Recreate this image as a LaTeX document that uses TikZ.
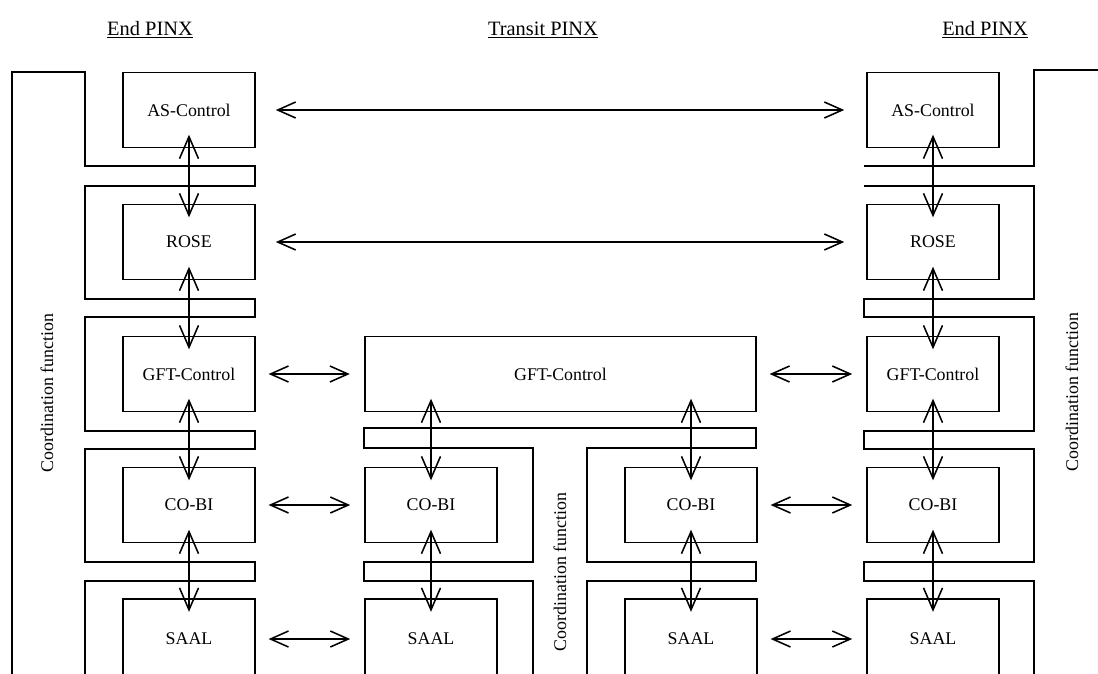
\documentclass[tikz,border=0pt]{standalone}
\usepackage{fontspec}
\setmainfont{Liberation Serif}
\usetikzlibrary{arrows.meta}
\tikzset{
  pbox/.style={draw,line width=1.1pt,minimum width=3.3cm,minimum height=1.875cm,inner sep=0pt,font=\fontsize{12.7}{15}\selectfont},
  phead/.style={anchor=base,font=\fontsize{14.5}{17}\selectfont},
  pcoord/.style={rotate=90,font=\fontsize{12.7}{15}\selectfont},
  pline/.style={line width=1.1pt},
  parr/.style={{Straight Barb[length=4.5mm,width=4mm]}-{Straight Barb[length=4.5mm,width=4mm]},line width=1.1pt},
  pvarr/.style={{Straight Barb[length=5.5mm,width=4.75mm]}-{Straight Barb[length=5.5mm,width=4.75mm]},line width=1.1pt,shorten <=-3.4mm,shorten >=-3.4mm}
}

\begin{document}
\begin{tikzpicture}[x=0.025cm,y=-0.025cm]
  \useasboundingbox (0,0) rectangle (1098,673);
  % headings
  \node[phead] (hl) at (150,35) {\underline{End PINX}};
  \node[phead] (hm) at (543,35) {\underline{Transit PINX}};
  \node[phead] (hr) at (985,35) {\underline{End PINX}};
  % end PINX stacks
  \foreach \c/\x in {l/189,r/933}{
    \node[pbox] (as\c) at (\x,110) {AS-Control};
    \node[pbox] (rose\c) at (\x,242) {ROSE};
    \node[pbox] (gft\c) at (\x,374) {GFT-Control};
    \node[pbox] (cobi\c) at (\x,505) {CO-BI};
    \node[pbox,minimum height=2cm] (saal\c) at (\x,639) {SAAL};
    \draw[pvarr] (as\c.south) -- (rose\c.north);
    \draw[pvarr] (rose\c.south) -- (gft\c.north);
    \draw[pvarr] (gft\c.south) -- (cobi\c.north);
    \draw[pvarr] (cobi\c.south) -- (saal\c.north);
  }
  % transit PINX
  \node[pbox,minimum width=9.775cm] (gftm) at (560.5,374) {GFT-Control};
  \foreach \c/\x in {a/431,b/691}{
    \node[pbox] (cobi\c) at (\x,505) {CO-BI};
    \node[pbox,minimum height=2cm] (saal\c) at (\x,639) {SAAL};
    \draw[pvarr] (gftm.south -| cobi\c) -- (cobi\c.north);
    \draw[pvarr] (cobi\c.south) -- (saal\c.north);
  }
  % peer arrows
  \draw[parr,shorten <=5mm,shorten >=5.5mm] (asl.east) -- (asr.west);
  \draw[parr,shorten <=5mm,shorten >=5.5mm] (rosel.east) -- (roser.west);
  \draw[parr,shorten <=3.2mm,shorten >=3.6mm] (gftl.east) -- (gftm.west);
  \draw[parr,shorten <=3.2mm,shorten >=3.5mm] (gftm.east) -- (gftr.west);
  \foreach \p/\q in {cobil/cobia,cobib/cobir,saall/saala,saalb/saalr}
    \draw[parr,shorten <=3.2mm,shorten >=3.5mm] (\p.east) -- (\q.west);
  % coordination functions
  \draw[pline] (12,690) -- (12,72) -- (85,72) -- (85,166) -- (255,166) -- (255,186) -- (85,186)
    -- (85,299) -- (255,299) -- (255,317) -- (85,317) -- (85,431) -- (255,431) -- (255,449)
    -- (85,449) -- (85,562) -- (255,562) -- (255,581) -- (85,581) -- (85,690);
  \draw[pline] (1110,70) -- (1034,70) -- (1034,166) -- (864,166);
  \draw[pline] (864,186) -- (1034,186) -- (1034,299) -- (864,299) -- (864,317) -- (1034,317)
    -- (1034,431) -- (864,431) -- (864,449) -- (1034,449) -- (1034,562) -- (864,562)
    -- (864,581) -- (1034,581) -- (1034,690);
  \draw[pline] (533,690) -- (533,581) -- (364,581) -- (364,562) -- (533,562) -- (533,448)
    -- (364,448) -- (364,428) -- (756,428) -- (756,448) -- (587,448) -- (587,562)
    -- (756,562) -- (756,581) -- (587,581) -- (587,690);
  \node[pcoord] (cfl) at (47,393) {Coordination function};
  \node[pcoord] (cfm) at (560,572) {Coordination function};
  \node[pcoord] (cfr) at (1072,392) {Coordination function};
\end{tikzpicture}
\end{document}
